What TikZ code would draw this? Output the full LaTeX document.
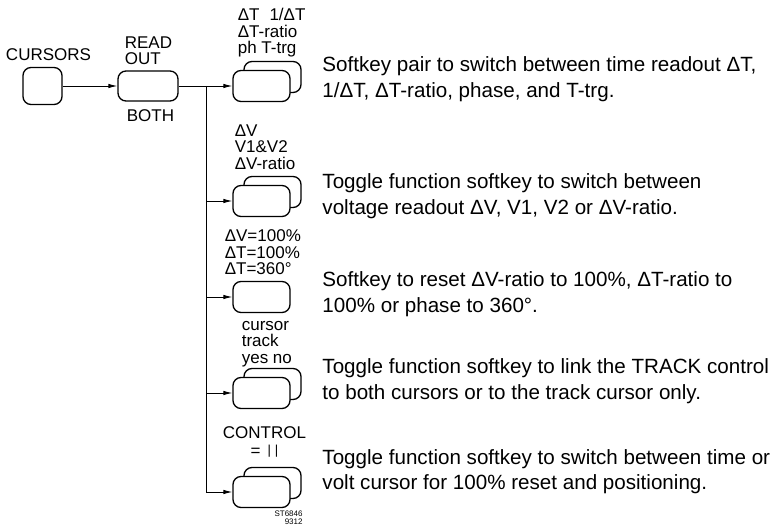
\documentclass[tikz,border=0pt]{standalone}
\usepackage{fontspec}
\setmainfont{Liberation Sans}
\usetikzlibrary{arrows.meta,positioning}

\begin{document}
\begin{tikzpicture}[x=1pt,y=-1pt,
  key/.style={draw,rounded corners=8pt,line width=1.3pt,fill=white,
              minimum width=57pt,minimum height=31pt,inner sep=0pt},
  lbl/.style={font=\fontsize{17}{16.5}\selectfont,align=left,inner sep=0pt},
  txt/.style={font=\fontsize{20.6}{25.5}\selectfont,align=left,inner sep=0pt,anchor=base west},
  >={Latex[length=9pt,width=4.5pt]},line width=0.9pt]
\useasboundingbox (0,0) rectangle (774,526);
\node[key,minimum width=39pt,minimum height=37pt] (cur) at (42.5,86) {};
\node[key,minimum width=60pt,minimum height=30pt] (rd) at (148,86) {};
\node[key] (k1b) at (272.5,77) {};  \node[key] (k1) at (261.5,86) {};
\node[key] (k2b) at (272.5,192) {}; \node[key] (k2) at (261.5,201) {};
\node[key] (k3) at (261.5,297) {};
\node[key] (k4b) at (272.5,384) {}; \node[key] (k4) at (261.5,393) {};
\node[key] (k5b) at (272.5,483) {}; \node[key] (k5) at (261.5,492) {};
\coordinate (jn) at (206,86);
\draw[->] (cur) -- (rd);
\draw (rd) -- (jn);
\draw[->] (jn) -- (k1);
\foreach \k in {k2,k3,k4} \draw[->] (jn |- \k) -- (\k);
\draw[->] (jn) |- (k5);
\node[lbl,above=6pt of cur,xshift=6pt] (curl) {CURSORS};
\node[lbl,above right=5pt and 7pt of rd.north west] (rdl) {READ\\OUT};
\node[lbl,below right=8pt and 9pt of rd.south west] (rdb) {BOTH};
\node[lbl,above right=3pt and -6pt of k1b.north west] (k1l) {ΔT\hspace{10pt}1/ΔT\\ΔT-ratio\\ph T-trg};
\node[lbl,above right=6pt and -9pt of k2b.north west] (k2l) {ΔV\\V1\&V2\\ΔV-ratio};
\node[lbl,above right=5.5pt and -8pt of k3.north west] (k3l) {ΔV=100\%\\ΔT=100\%\\ΔT=360°};
\node[lbl,above right=0.5pt and -2pt of k4b.north west] (k4l) {cursor\\track\\yes no};
\node[lbl,above=9pt of k5b,xshift=-8pt] (k5s) {=\hspace{7pt}\raisebox{1.5pt}{\fontsize{13}{13}\selectfont|\hspace{4pt}|}};
\node[lbl,above=6pt of k5s] (k5l) {CONTROL};
\node[txt] (d1) at (322,97.5) {Softkey pair to switch between time readout ΔT,\\1/ΔT, ΔT-ratio, phase, and T-trg.};
\node[txt] (d2) at (322,214.5) {Toggle function softkey to switch between\\voltage readout ΔV, V1, V2 or ΔV-ratio.};
\node[txt] (d3) at (322,312.5) {Softkey to reset ΔV-ratio to 100\%, ΔT-ratio to\\100\% or phase to 360°.};
\node[txt] (d4) at (322,399.5) {Toggle function softkey to link the TRACK control\\to both cursors or to the track cursor only.};
\node[txt] (d5) at (322,489.5) {Toggle function softkey to switch between time or\\volt cursor for 100\% reset and positioning.};
\node[font=\fontsize{8}{8.5}\selectfont,align=right,inner sep=0pt,anchor=north east] (st) at (303,510) {ST6846\\9312};
\end{tikzpicture}
\end{document}
